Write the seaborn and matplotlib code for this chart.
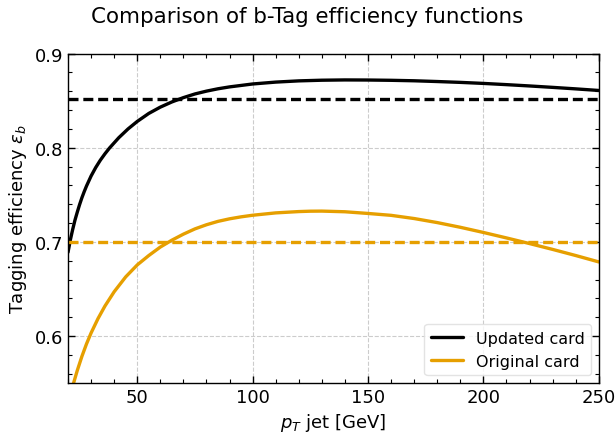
import matplotlib
matplotlib.use("Agg")
import matplotlib.pyplot as plt
from matplotlib.ticker import MultipleLocator
import numpy as np
import pandas as pd
import seaborn as sns

# Data
pt_updated = [20, 21, 22, 23, 24, 25, 26, 27, 28, 30, 32, 34, 36, 38, 42, 46, 50, 55, 60,
              65, 70, 75, 80, 85, 90, 100, 110, 120, 130, 140, 150, 160, 170, 180, 190,
              200, 210, 220, 230, 240, 250]
eff_updated = [0.689, 0.702, 0.713, 0.723, 0.7315, 0.7395, 0.7468, 0.7533, 0.7593, 0.770,
               0.779, 0.7868, 0.7936, 0.7998, 0.8107, 0.820, 0.828, 0.8365, 0.8432,
               0.8487, 0.8533, 0.8572, 0.8602, 0.8627, 0.8647, 0.8678, 0.8698, 0.8711,
               0.8718, 0.8721, 0.8720, 0.8717, 0.8712, 0.8704, 0.8695, 0.8684, 0.8671,
               0.8657, 0.8642, 0.8626, 0.8609]

pt_original = [20, 22, 24, 26, 28, 30, 33, 36, 40, 45, 50, 55, 60, 65, 70, 75, 80, 85, 90,
               95, 100, 110, 120, 125, 130, 140, 150, 160, 170, 180, 190, 200, 210, 215,
               220, 230, 240, 250]
eff_original = [0.528, 0.5465, 0.5632, 0.5782, 0.5915, 0.6032, 0.6185, 0.6318, 0.647,
                0.6628, 0.6755, 0.6855, 0.6945, 0.7018, 0.7082, 0.7138, 0.7182, 0.7218,
                0.7245, 0.7266, 0.7283, 0.7308, 0.7322, 0.7326, 0.7327, 0.732, 0.7302,
                0.7282, 0.7248, 0.7205, 0.7155, 0.71, 0.7042, 0.7012, 0.6982, 0.692,
                0.6855, 0.6787]

const_updated = 0.852
const_original = 0.70

labels = ["Updated card", "Original card"]
title = "Comparison of b-Tag efficiency functions"

black = "#000000"
orange = "#E69F00"

sns.set_style("ticks")
plt.rcParams['font.family'] = ['DejaVu Sans']
plt.rcParams['text.color'] = 'black'
plt.rcParams['axes.labelcolor'] = 'black'
plt.rcParams['xtick.color'] = 'black'
plt.rcParams['ytick.color'] = 'black'

fig = plt.figure(figsize=(6.15, 4.35), dpi=100)
ax = fig.add_axes([0.1106, 0.1172, 0.8630, 0.7571])

df = pd.concat([
    pd.DataFrame({"pt": pt_updated, "eff": eff_updated, "card": labels[0]}),
    pd.DataFrame({"pt": pt_original, "eff": eff_original, "card": labels[1]}),
])

sns.lineplot(data=df, x="pt", y="eff", hue="card", palette=[black, orange],
             linewidth=2.4, ax=ax, sort=True)
ax.axhline(const_updated, color=black, linestyle="--", linewidth=2.4, dashes=(3.0, 1.45))
ax.axhline(const_original, color=orange, linestyle="--", linewidth=2.4, dashes=(3.0, 1.45))

ax.set_xlim(20, 250)
ax.set_ylim(0.55, 0.9)
ax.xaxis.set_major_locator(MultipleLocator(50))
ax.xaxis.set_minor_locator(MultipleLocator(10))
ax.yaxis.set_major_locator(MultipleLocator(0.1))
ax.yaxis.set_minor_locator(MultipleLocator(0.02))
ax.tick_params(which="both", direction="in", top=True, right=True, labelsize=13,
               colors="black")
ax.tick_params(which="major", length=5, width=1)
ax.tick_params(which="minor", length=3, width=0.8)
for s in ax.spines.values():
    s.set_visible(True)
    s.set_color("black")
    s.set_linewidth(1.0)

ax.grid(True, which="major", linestyle="--", color="#cccccc", linewidth=0.8)
ax.set_axisbelow(True)

ax.set_xlabel(r"$p_T$ jet [GeV]", fontsize=13, color="black")
ax.set_ylabel(r"Tagging efficiency $\epsilon_b$", fontsize=13, color="black")
fig.suptitle(title, fontsize=15.4, x=0.5, y=0.985, color="black")

leg = ax.legend(loc="lower right", fontsize=11.5, frameon=True, handlelength=2.0)
leg.get_frame().set_edgecolor("#dddddd")
for t in leg.get_texts():
    t.set_color("black")

fig.savefig("out.png", dpi=100)
